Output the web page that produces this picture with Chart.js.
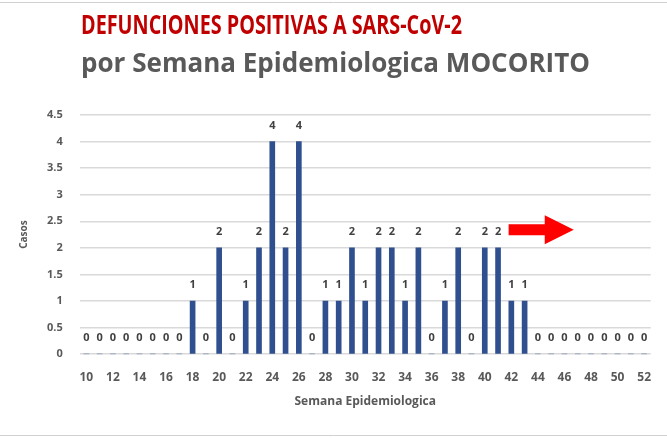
<!DOCTYPE html>
<html>
<head>
<meta charset="utf-8">
<script src="https://cdn.jsdelivr.net/npm/chart.js@4.4.0/dist/chart.umd.min.js"></script>
<style>
html,body{margin:0;padding:0;background:#fff;}
#wrap{position:relative;width:667px;height:439px;}
canvas{display:block;}
</style>
</head>
<body>
<div id="wrap"><canvas id="c" width="667" height="439"></canvas></div>
<script>
const weeks = [10,11,12,13,14,15,16,17,18,19,20,21,22,23,24,25,26,27,28,29,30,31,32,33,34,35,36,37,38,39,40,41,42,43,44,45,46,47,48,49,50,51,52];
const deaths = [0,0,0,0,0,0,0,0,1,0,2,0,1,2,4,2,4,0,1,1,2,1,2,2,1,2,0,1,2,0,2,2,1,1,0,0,0,0,0,0,0,0,0];
const yTicks = [0,0.5,1,1.5,2,2.5,3,3.5,4,4.5];
const titleText = 'DEFUNCIONES POSITIVAS A SARS-CoV-2';
const subtitleText = 'por Semana Epidemiologica MOCORITO';
const xTitle = 'Semana Epidemiologica';
const yTitle = 'Casos';

const FONT = '"Open Sans", sans-serif';

function fitText(ctx, text, x, y, width) {
  const w = ctx.measureText(text).width;
  ctx.save();
  ctx.translate(x, y);
  ctx.scale(width / w, 1);
  ctx.fillText(text, 0, 0);
  ctx.restore();
}

const framePlugin = {
  id: 'frame',
  beforeDraw(chart) {
    const ctx = chart.ctx;
    ctx.save();
    ctx.fillStyle = '#fff';
    ctx.fillRect(0, 0, chart.width, chart.height);
    ctx.strokeStyle = '#D0D0D0';
    ctx.lineWidth = 1;
    ctx.beginPath();
    ctx.moveTo(0, 2.5); ctx.lineTo(chart.width, 2.5);
    ctx.moveTo(0, 435.5); ctx.lineTo(chart.width, 435.5);
    ctx.stroke();
    ctx.restore();
  },
  afterDraw(chart) {
    const ctx = chart.ctx;
    ctx.save();
    ctx.textAlign = 'left';
    ctx.textBaseline = 'alphabetic';
    ctx.font = 'bold 26px ' + FONT;
    ctx.fillStyle = '#C00000';
    fitText(ctx, titleText, 81, 34, 381);
    ctx.fillStyle = '#595959';
    fitText(ctx, subtitleText, 81, 72, 509);
    ctx.restore();
  }
};

const labelPlugin = {
  id: 'barLabels',
  afterDatasetsDraw(chart) {
    const ctx = chart.ctx;
    const meta = chart.getDatasetMeta(0);
    ctx.save();
    ctx.font = 'bold 11px ' + FONT;
    ctx.fillStyle = '#404040';
    ctx.textAlign = 'center';
    ctx.textBaseline = 'middle';
    meta.data.forEach((el, i) => {
      ctx.fillText(String(deaths[i]), el.x, el.y - 16);
    });
    ctx.restore();
  }
};

const arrowPlugin = {
  id: 'arrow',
  afterDraw(chart) {
    const xs = chart.scales.x, ys = chart.scales.y;
    const ctx = chart.ctx;
    const x0 = xs.getPixelForValue(weeks.indexOf(43)) - 16;
    const x1 = xs.getPixelForValue(weeks.indexOf(47)) - 4;
    const yc = ys.getPixelForValue(2.34);
    const hx = x1 - 29;
    ctx.save();
    ctx.fillStyle = '#FF0000';
    ctx.beginPath();
    ctx.moveTo(x0, yc - 5.5);
    ctx.lineTo(hx, yc - 5.5);
    ctx.lineTo(hx, yc - 14.5);
    ctx.lineTo(x1, yc);
    ctx.lineTo(hx, yc + 14.5);
    ctx.lineTo(hx, yc + 5.5);
    ctx.lineTo(x0, yc + 5.5);
    ctx.closePath();
    ctx.fill();
    ctx.restore();
  }
};

new Chart(document.getElementById('c'), {
  type: 'bar',
  data: {
    labels: weeks.map(String),
    datasets: [{
      data: deaths,
      backgroundColor: '#2F4F8F',
      barThickness: 5
    }]
  },
  options: {
    responsive: false,
    animation: false,
    layout: { padding: { left: 14, right: 0, bottom: 26, top: 115 } },
    plugins: {
      legend: { display: false },
      tooltip: { enabled: false },
      title: { display: false },
      subtitle: { display: false }
    },
    scales: {
      x: {
        offset: true,
        grid: { display: false, drawTicks: false },
        border: { display: false },
        ticks: {
          autoSkip: false,
          maxRotation: 0,
          padding: 16,
          color: '#595959',
          font: { family: FONT, size: 12, weight: 'bold' },
          callback: function(v, i) { return i % 2 === 0 ? weeks[i] : ''; }
        },
        title: {
          display: true,
          text: xTitle,
          color: '#595959',
          font: { family: FONT, size: 12, weight: 'bold' },
          padding: { top: -6 }
        }
      },
      y: {
        min: 0,
        max: 4.5,
        afterBuildTicks: (s) => { s.ticks = yTicks.map(v => ({ value: v })); },
        grid: { color: '#D9D9D9', lineWidth: 1.5, drawTicks: false },
        border: { display: false },
        ticks: {
          padding: 17,
          color: '#595959',
          font: { family: FONT, size: 11, weight: 'bold' },
          callback: (v) => String(v)
        },
        title: {
          display: true,
          text: yTitle,
          color: '#595959',
          font: { family: FONT, size: 10, weight: 'bold' },
          padding: { bottom: 0 }
        }
      }
    }
  },
  plugins: [framePlugin, labelPlugin, arrowPlugin]
});
</script>
</body>
</html>
